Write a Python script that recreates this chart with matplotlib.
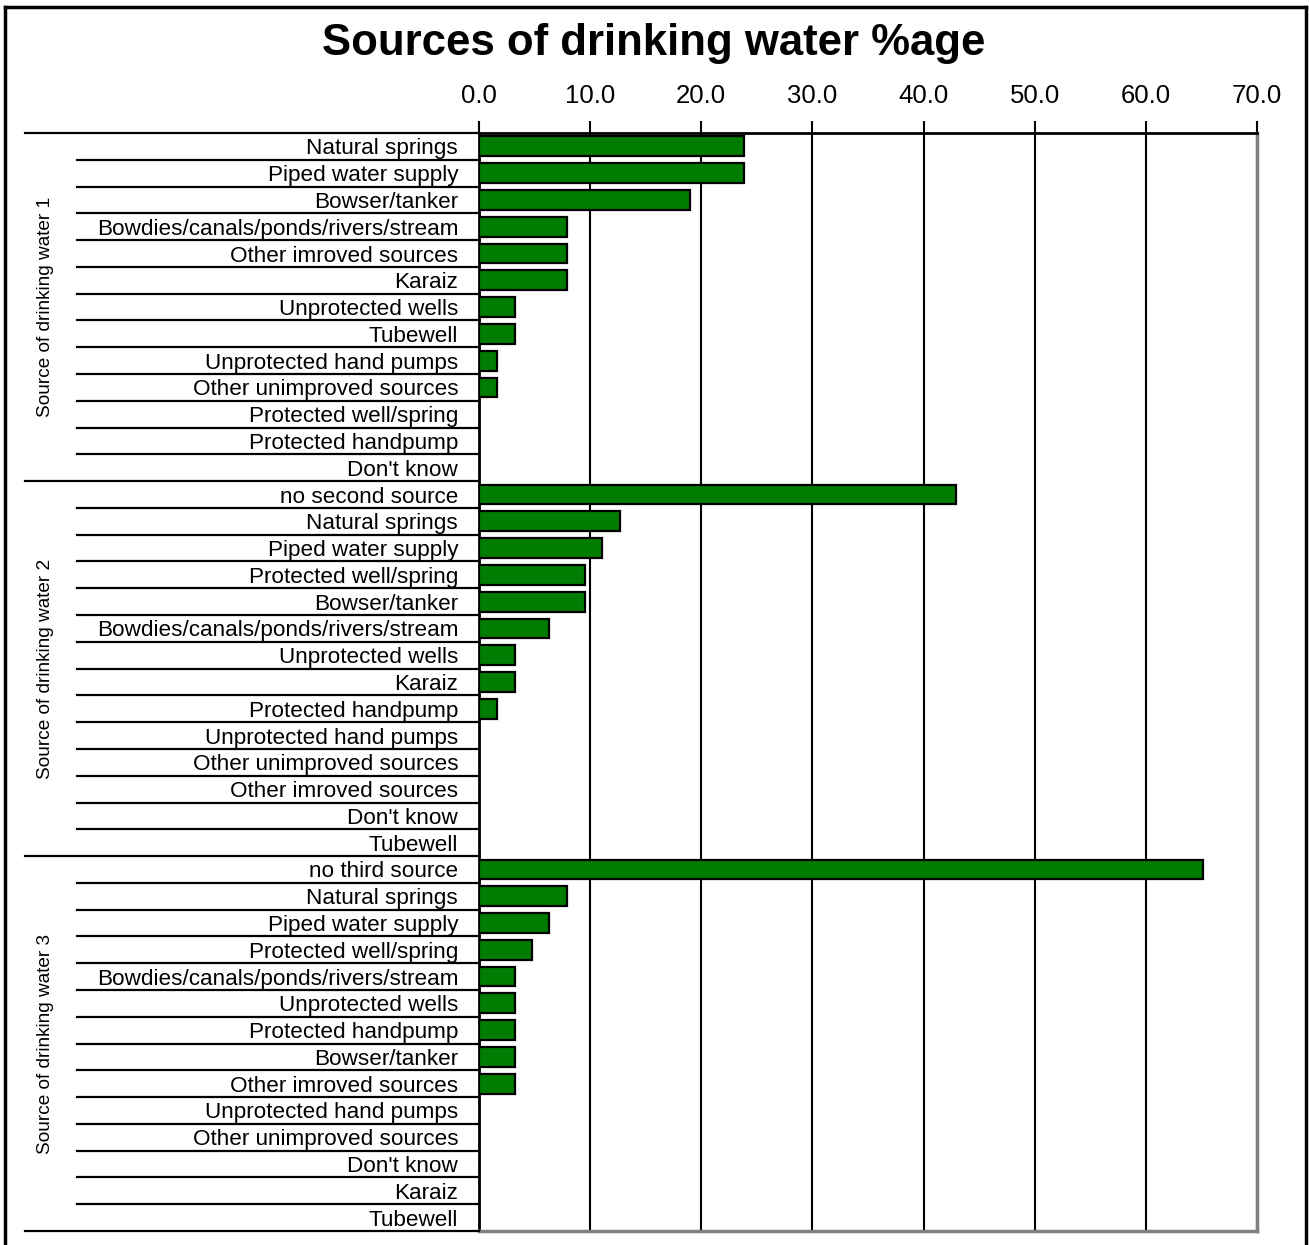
import matplotlib
matplotlib.use('Agg')
import matplotlib.pyplot as plt
from matplotlib.transforms import blended_transform_factory
from matplotlib.lines import Line2D

plt.rcParams['font.family'] = ['Liberation Sans', 'DejaVu Sans']

title = "Sources of drinking water %age"
group_titles = ["Source of drinking water 1", "Source of drinking water 2",
                "Source of drinking water 3"]

labels_1 = ["Natural springs", "Piped water supply", "Bowser/tanker",
            "Bowdies/canals/ponds/rivers/stream", "Other imroved sources", "Karaiz",
            "Unprotected wells", "Tubewell", "Unprotected hand pumps",
            "Other unimproved sources", "Protected well/spring", "Protected handpump",
            "Don't know"]
values_1 = [23.8, 23.8, 19.0, 7.9, 7.9, 7.9, 3.2, 3.2, 1.6, 1.6, 0, 0, 0]

labels_2 = ["no second source", "Natural springs", "Piped water supply",
            "Protected well/spring", "Bowser/tanker", "Bowdies/canals/ponds/rivers/stream",
            "Unprotected wells", "Karaiz", "Protected handpump", "Unprotected hand pumps",
            "Other unimproved sources", "Other imroved sources", "Don't know", "Tubewell"]
values_2 = [42.9, 12.7, 11.1, 9.5, 9.5, 6.3, 3.2, 3.2, 1.6, 0, 0, 0, 0, 0]

labels_3 = ["no third source", "Natural springs", "Piped water supply",
            "Protected well/spring", "Bowdies/canals/ponds/rivers/stream",
            "Unprotected wells", "Protected handpump", "Bowser/tanker",
            "Other imroved sources", "Unprotected hand pumps", "Other unimproved sources",
            "Don't know", "Karaiz", "Tubewell"]
values_3 = [65.1, 7.9, 6.3, 4.8, 3.2, 3.2, 3.2, 3.2, 3.2, 0, 0, 0, 0, 0]

x_ticks = [0, 10, 20, 30, 40, 50, 60, 70]
x_tick_labels = ["0.0", "10.0", "20.0", "30.0", "40.0", "50.0", "60.0", "70.0"]

groups = [(labels_1, values_1), (labels_2, values_2), (labels_3, values_3)]
all_labels = labels_1 + labels_2 + labels_3
all_values = values_1 + values_2 + values_3
n = len(all_labels)
ypos = list(range(n))

W, H = 1309, 1245
fig = plt.figure(figsize=(W / 100, H / 100), dpi=100)
L, R, T, B = 479, 1257, 133, 1231
ax = fig.add_axes([L / W, 1 - B / H, (R - L) / W, (B - T) / H])

ax.barh(ypos, all_values, height=0.74, color='#007d00', edgecolor='black',
        linewidth=1.6, zorder=3)

ax.set_xlim(0, 70)
ax.set_ylim(n - 0.5, -0.5)
ax.xaxis.tick_top()
ax.set_xticks(x_ticks)
ax.set_xticklabels(x_tick_labels, fontsize=18.5)
ax.tick_params(axis='x', direction='out', length=9, width=1.5, pad=9, colors='black')
ax.xaxis.grid(True, color='black', linewidth=1.5, zorder=1)
ax.set_axisbelow(True)

ax.set_yticks(ypos)
ax.set_yticklabels(all_labels, fontsize=16.2)
ax.tick_params(axis='y', length=0, pad=15)

ax.spines['top'].set_linewidth(2)
ax.spines['left'].set_linewidth(2)
ax.spines['right'].set_color('#808080')
ax.spines['right'].set_linewidth(2.5)
ax.spines['bottom'].set_color('#808080')
ax.spines['bottom'].set_linewidth(2.5)

trans = blended_transform_factory(ax.transAxes, ax.transData)
boundaries = [0]
for labs, _ in groups:
    boundaries.append(boundaries[-1] + len(labs))
for k in range(n + 1):
    x0 = (25 - L) / (R - L) if k in boundaries else (77 - L) / (R - L)
    ax.plot([x0, 0], [k - 0.5, k - 0.5], transform=trans, color='black',
            linewidth=1.6, clip_on=False, zorder=4)

for i, gt in enumerate(group_titles):
    yc = (boundaries[i] + boundaries[i + 1]) / 2 - 0.5
    ax.text((45 - L) / (R - L), yc, gt, transform=trans, rotation=90,
            ha='center', va='center', fontsize=13.7)

fig.text(0.499, 1 - 44 / H, title, ha='center', va='center', fontsize=31.5,
         fontweight='bold')

# figure frame
for (x0, y0, x1, y1) in [(5, 7, 1306, 7), (5, 7, 5, 1250), (1306, 7, 1306, 1250)]:
    fig.add_artist(Line2D([x0 / W, x1 / W], [1 - y0 / H, 1 - y1 / H],
                          color='black', linewidth=2.5, transform=fig.transFigure))

fig.savefig('out.png', dpi=100)
